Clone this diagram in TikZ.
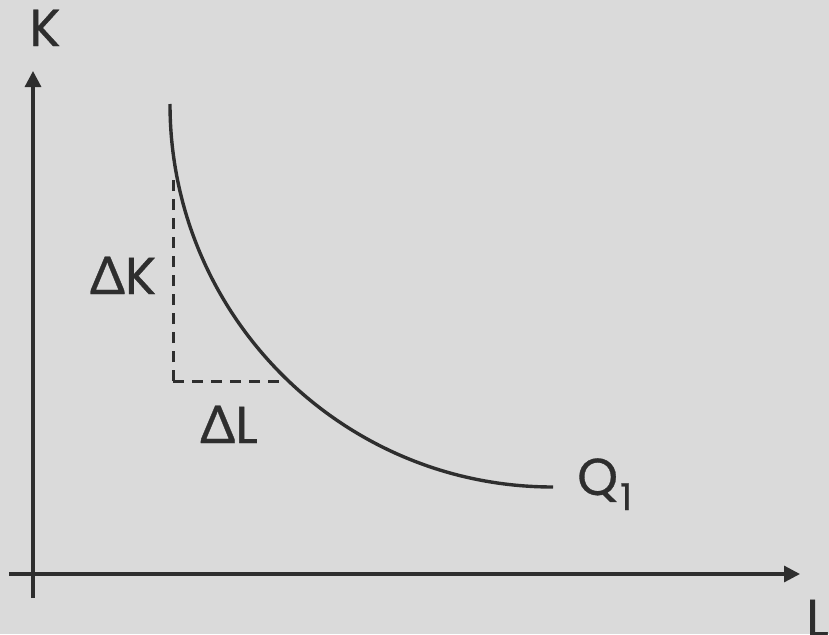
\documentclass[tikz,border=0pt]{standalone}
\usepackage{fontspec}
\setmainfont{Poppins}[UprightFeatures={FakeBold=0.6}]
\newfontfamily\greekfont{Lato}
\usetikzlibrary{arrows.meta}
\definecolor{bg}{HTML}{DADADA}
\definecolor{ink}{HTML}{2E2E2E}
\begin{document}
\begin{tikzpicture}[x=1pt,y=-1pt,
  axis/.style={draw=ink,line width=3.2pt,-{Triangle[length=16pt,width=16pt]}},
  curve/.style={draw=ink,line width=3.4pt},
  guide/.style={draw=ink,line width=3pt,dash pattern=on 11pt off 8pt},
  lab/.style={text=ink,inner sep=0pt,anchor=base,font=\fontsize{52}{52}\selectfont}]
\fill[bg] (0,0) rectangle (829,634);
\useasboundingbox (0,0) rectangle (829,634);
% axes
\coordinate (ybot) at (33,598);
\coordinate (ytop) at (33,71);
\coordinate (xleft) at (9,574);
\coordinate (xright) at (800,574);
\draw[axis] (ybot) -- (ytop);
\draw[axis] (xleft) -- (xright);
% curve Q1 (circular arc)
\coordinate (cstart) at (170,104);
\draw[curve] (cstart) arc[start angle=180,end angle=90,radius=383] coordinate (cend);
% dashed guides
\coordinate (corner) at (173,381);
\coordinate (dtop) at (173,180);
\coordinate (dright) at (281,381);
\draw[guide] (corner) -- (dtop);
\draw[guide] (corner) -- (dright);
% labels
\node[lab] (K) at (45,46) {K};
\node[lab,anchor=base west] (L) at (806,636) {L};
\node[lab] (dK) at (123,294) {{\greekfont\addfontfeatures{FakeBold=0.6}Δ}K};
\node[lab] (dL) at (229,443) {{\greekfont\addfontfeatures{FakeBold=0.6}Δ}L};
\node[lab,anchor=base west] (Q) at (577,495) {Q\hspace{2pt}\raisebox{-15pt}{\fontsize{37}{37}\selectfont 1}};
\end{tikzpicture}
\end{document}
